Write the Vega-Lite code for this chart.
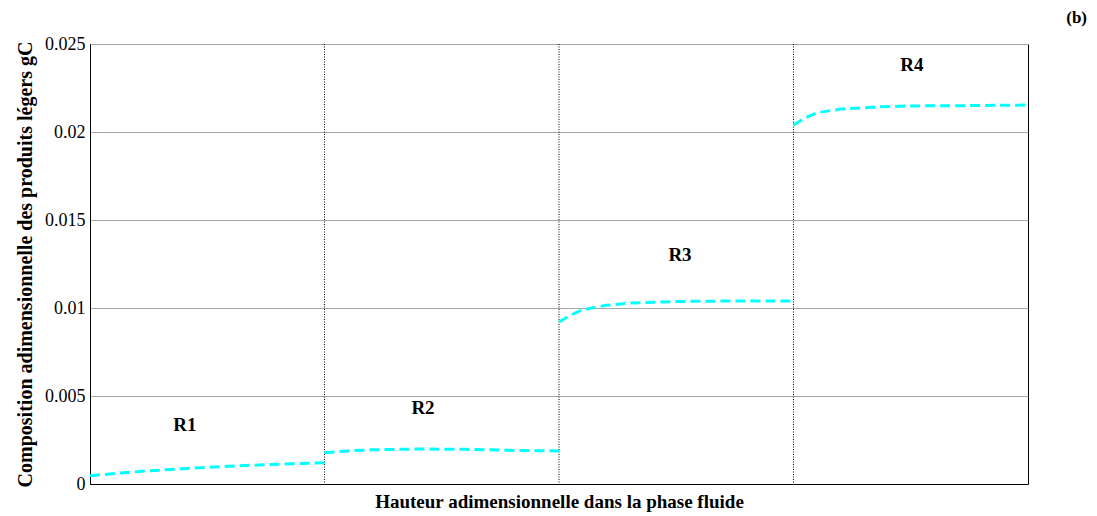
{
  "$schema": "https://vega.github.io/schema/vega-lite/v6.json",
  "width": 938,
  "height": 440,
  "autosize": {"type": "none"},
  "padding": {"left": 90, "top": 44, "right": 69, "bottom": 32},
  "title": {"text": "(b)", "anchor": "end", "dx": 53, "dy": 0, "offset": 8, "font": "Liberation Serif", "fontSize": 17, "fontWeight": "bold", "color": "black"},
  "config": {
    "view": {"stroke": "black", "strokeWidth": 1},
    "font": "Liberation Serif"
  },
  "datasets": {
    "curve": [
      {"region": "R1", "h": 0.0, "g": 0.00047},
      {"region": "R1", "h": 0.125, "g": 0.00062},
      {"region": "R1", "h": 0.25, "g": 0.00075},
      {"region": "R1", "h": 0.5, "g": 0.00095},
      {"region": "R1", "h": 0.75, "g": 0.0011},
      {"region": "R1", "h": 1.0, "g": 0.00121},
      {"region": "R2", "h": 1.0, "g": 0.00178},
      {"region": "R2", "h": 1.1, "g": 0.00188},
      {"region": "R2", "h": 1.2, "g": 0.00194},
      {"region": "R2", "h": 1.4, "g": 0.00199},
      {"region": "R2", "h": 1.6, "g": 0.00197},
      {"region": "R2", "h": 1.8, "g": 0.00191},
      {"region": "R2", "h": 2.0, "g": 0.00188},
      {"region": "R3", "h": 2.0, "g": 0.0092},
      {"region": "R3", "h": 2.05, "g": 0.0096},
      {"region": "R3", "h": 2.1, "g": 0.0099},
      {"region": "R3", "h": 2.2, "g": 0.01015},
      {"region": "R3", "h": 2.3, "g": 0.01028},
      {"region": "R3", "h": 2.5, "g": 0.01037},
      {"region": "R3", "h": 2.75, "g": 0.0104},
      {"region": "R3", "h": 3.0, "g": 0.0104},
      {"region": "R4", "h": 3.0, "g": 0.0204},
      {"region": "R4", "h": 3.05, "g": 0.0208},
      {"region": "R4", "h": 3.1, "g": 0.0211},
      {"region": "R4", "h": 3.2, "g": 0.0213},
      {"region": "R4", "h": 3.35, "g": 0.02142},
      {"region": "R4", "h": 3.5, "g": 0.02148},
      {"region": "R4", "h": 3.75, "g": 0.0215},
      {"region": "R4", "h": 4.0, "g": 0.02153}
    ],
    "dividers": [{"h": 1}, {"h": 2}, {"h": 3}],
    "labels": [
      {"label": "R1", "h": 0.405, "g": 0.00335},
      {"label": "R2", "h": 1.42, "g": 0.00432},
      {"label": "R3", "h": 2.516, "g": 0.01301},
      {"label": "R4", "h": 3.505, "g": 0.0238}
    ]
  },
  "layer": [
    {
      "data": {"name": "dividers"},
      "mark": {"type": "rule", "color": "black", "strokeWidth": 1, "strokeDash": [1, 1.5]},
      "encoding": {
        "x": {"field": "h", "type": "quantitative", "scale": {"domain": [0, 4], "nice": false}}
      }
    },
    {
      "data": {"name": "curve"},
      "mark": {"type": "line", "color": "#00ffff", "strokeWidth": 3, "strokeDash": [10, 5]},
      "encoding": {
        "x": {"field": "h", "type": "quantitative", "scale": {"domain": [0, 4], "nice": false},
          "axis": {"title": "Hauteur adimensionnelle dans la phase fluide", "labels": false, "ticks": false, "grid": false, "domainColor": "black",
            "titleFont": "Liberation Serif", "titleFontSize": 19, "titleFontWeight": "bold", "titleColor": "black", "titlePadding": 8}},
        "y": {"field": "g", "type": "quantitative", "scale": {"domain": [0, 0.025], "nice": false},
          "axis": {"title": "Composition adimensionnelle des produits légers gC", "values": [0, 0.005, 0.01, 0.015, 0.02, 0.025],
            "labelExpr": "datum.value", "ticks": false, "grid": true, "gridColor": "#a6a6a6", "gridWidth": 1, "domainColor": "black",
            "labelFont": "Liberation Serif", "labelFontSize": 18, "labelColor": "black", "labelPadding": 5,
            "titleFont": "Liberation Serif", "titleFontSize": 20, "titleFontWeight": "bold", "titleColor": "black", "titlePadding": 9}},
        "detail": {"field": "region", "type": "nominal"}
      }
    },
    {
      "data": {"name": "labels"},
      "mark": {"type": "text", "font": "Liberation Serif", "fontSize": 19, "fontWeight": "bold", "color": "black"},
      "encoding": {
        "x": {"field": "h", "type": "quantitative"},
        "y": {"field": "g", "type": "quantitative"},
        "text": {"field": "label"}
      }
    }
  ]
}
